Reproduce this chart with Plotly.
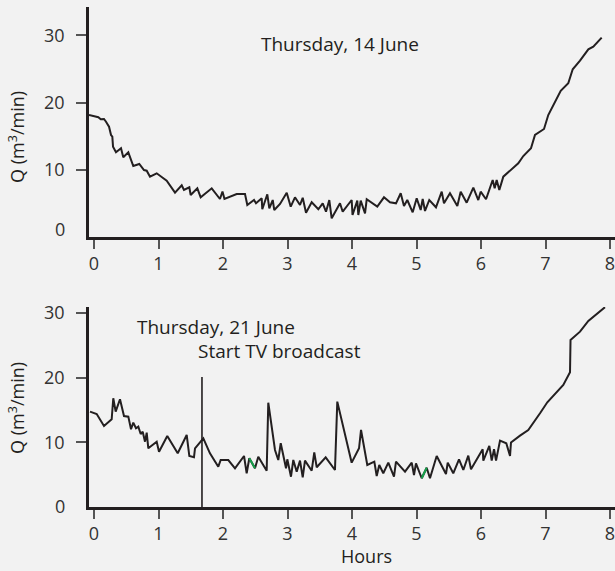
import plotly.graph_objects as go

# Water demand Q (m^3/min) against time (hours) for two Thursdays
hours_jun14 = [-0.078, 0.016, 0.067, 0.104, 0.155, 0.186, 0.233, 0.264, 0.284, 0.295,
               0.341, 0.419, 0.454, 0.532, 0.609, 0.702, 0.775, 0.817, 0.868, 0.972,
               1.127, 1.256, 1.360, 1.395, 1.478, 1.499, 1.602, 1.654, 1.825, 1.953,
               1.992, 2.023, 2.212, 2.341, 2.377, 2.481, 2.512, 2.600, 2.609, 2.687,
               2.718, 2.771, 2.795, 2.884, 2.988, 3.050, 3.116, 3.194, 3.236, 3.287,
               3.375, 3.478, 3.546, 3.597, 3.648, 3.685, 3.814, 3.856, 3.995, 4.008,
               4.082, 4.098, 4.135, 4.202, 4.228, 4.392, 4.496, 4.589, 4.682, 4.755,
               4.806, 4.857, 4.941, 5.003, 5.065, 5.096, 5.132, 5.198, 5.302, 5.391,
               5.426, 5.519, 5.633, 5.685, 5.778, 5.881, 5.958, 5.995, 6.078, 6.181,
               6.212, 6.243, 6.284, 6.346, 6.578, 6.656, 6.775, 6.837, 6.977, 7.043,
               7.236, 7.353, 7.422, 7.535, 7.664, 7.741, 7.871]
q_jun14 = [18.14, 17.99, 17.80, 17.50, 17.55, 17.14, 16.40, 15.17, 14.91, 13.43,
           12.59, 13.19, 11.85, 12.59, 10.56, 10.86, 9.96, 9.86, 8.97, 9.47,
           8.37, 6.59, 7.69, 6.99, 7.39, 6.25, 7.24, 5.90, 7.24, 5.65,
           6.77, 5.65, 6.39, 6.39, 4.76, 5.50, 5.01, 5.75, 4.12, 6.35,
           4.27, 5.50, 4.01, 4.91, 6.59, 4.51, 5.90, 4.76, 5.84, 3.61,
           5.16, 4.12, 5.01, 3.76, 5.50, 2.78, 5.01, 3.76, 5.50, 3.27,
           5.40, 3.27, 5.40, 3.52, 5.61, 4.51, 5.90, 5.16, 5.01, 6.50,
           4.61, 5.50, 3.67, 5.75, 4.01, 5.65, 3.87, 5.50, 4.42, 6.74,
           5.01, 6.50, 4.61, 6.74, 5.10, 7.33, 5.50, 6.74, 5.61, 8.48,
           7.24, 8.48, 6.99, 8.97, 10.96, 12.04, 13.19, 15.17, 16.06, 18.14,
           21.75, 22.86, 24.94, 26.22, 27.91, 28.30, 29.64]

hours_jun21 = [-0.062, 0.042, 0.155, 0.274, 0.299, 0.336, 0.403, 0.465, 0.532, 0.574,
               0.609, 0.651, 0.687, 0.724, 0.755, 0.791, 0.817, 0.842, 0.972, 1.008,
               1.136, 1.298, 1.437, 1.478, 1.550, 1.566, 1.695, 1.798, 1.927, 1.964,
               2.082, 2.186, 2.326, 2.367, 2.408, 2.496, 2.547, 2.677, 2.702, 2.806,
               2.857, 2.895, 2.977, 2.997, 3.054, 3.090, 3.143, 3.194, 3.236, 3.271,
               3.375, 3.415, 3.453, 3.592, 3.736, 3.772, 3.995, 4.109, 4.140, 4.237,
               4.346, 4.383, 4.423, 4.485, 4.563, 4.651, 4.682, 4.822, 4.926, 4.961,
               4.992, 5.081, 5.158, 5.209, 5.313, 5.457, 5.484, 5.570, 5.659, 5.726,
               5.803, 5.845, 6.026, 6.036, 6.129, 6.166, 6.202, 6.233, 6.295, 6.392,
               6.450, 6.465, 6.605, 6.733, 6.915, 7.028, 7.276, 7.380, 7.388, 7.535,
               7.664, 7.922]
q_jun21 = [14.73, 14.37, 12.52, 13.55, 16.80, 14.73, 16.65, 14.06, 13.96, 12.01,
           13.03, 12.16, 12.41, 11.28, 11.64, 10.09, 11.48, 9.07, 10.09, 8.55,
           10.97, 8.30, 11.13, 7.88, 7.68, 9.07, 10.62, 8.30, 6.23, 7.26,
           7.26, 5.98, 7.88, 5.21, 7.53, 5.98, 7.77, 5.61, 16.12, 8.81,
           7.26, 9.85, 5.98, 7.37, 4.68, 7.26, 5.46, 7.16, 4.59, 7.16,
           5.61, 8.45, 6.14, 7.68, 5.72, 16.28, 6.85, 9.07, 11.90, 6.49,
           7.00, 4.79, 6.49, 5.21, 6.85, 4.68, 7.00, 5.46, 6.85, 4.95,
           6.75, 4.44, 6.07, 4.44, 7.88, 5.10, 6.85, 5.21, 7.37, 5.72,
           7.93, 5.83, 8.92, 7.16, 9.43, 7.16, 8.92, 7.16, 10.25, 9.85,
           7.88, 9.97, 11.02, 11.90, 14.48, 16.18, 18.86, 20.82, 25.81, 27.09,
           28.75, 30.87]

# Segments of the 21 June record marked in green (index of first point)
green_segment_starts = [34, 71]

# Start of the TV broadcast
broadcast_hour = 1.674
broadcast_marker_top = 20.1

hour_ticks = [0, 1, 2, 3, 4, 5, 6, 7, 8]
q_ticks = [10, 20, 30]

INK = "#231f20"
BG = "#f2f2f2"
FONT = "Open Sans"

fig = go.Figure()

fig.add_trace(go.Scatter(x=hours_jun14, y=q_jun14, mode="lines",
                         line=dict(color=INK, width=2), xaxis="x", yaxis="y",
                         showlegend=False, hoverinfo="skip"))

fig.add_trace(go.Scatter(x=hours_jun21, y=q_jun21, mode="lines",
                         line=dict(color=INK, width=2), xaxis="x2", yaxis="y2",
                         showlegend=False, hoverinfo="skip"))

for i in green_segment_starts:
    fig.add_trace(go.Scatter(x=hours_jun21[i:i + 2], y=q_jun21[i:i + 2], mode="lines",
                             line=dict(color="#16a04b", width=2), xaxis="x2", yaxis="y2",
                             showlegend=False, hoverinfo="skip"))

fig.add_trace(go.Scatter(x=[broadcast_hour, broadcast_hour], y=[0, broadcast_marker_top],
                         mode="lines", line=dict(color=INK, width=1.6),
                         xaxis="x2", yaxis="y2", showlegend=False, hoverinfo="skip"))

x_common = dict(range=[-0.0775, 8.0775], tickvals=hour_ticks, ticks="outside",
                ticklen=9, tickwidth=1.5, tickcolor="#555", showline=True,
                linecolor=INK, linewidth=2.6, showgrid=False, zeroline=False,
                ticklabeloverflow="allow",
                tickfont=dict(family=FONT, size=18, color="#333"), fixedrange=True)
y_common = dict(tickvals=q_ticks, ticks="outside", ticklen=10, tickwidth=1.5,
                tickcolor="#555", showline=True, linecolor=INK, linewidth=2.6,
                showgrid=False, zeroline=False, ticklabelstandoff=8,
                tickfont=dict(family=FONT, size=18, color="#333"), fixedrange=True)

fig.update_layout(
    width=615, height=571,
    margin=dict(l=89, r=0, t=7, b=64),
    paper_bgcolor=BG, plot_bgcolor=BG,
    xaxis=dict(x_common, anchor="y"),
    yaxis=dict(y_common, domain=[0.54, 1.0], range=[0, 34.2], anchor="x"),
    xaxis2=dict(x_common, anchor="y2"),
    yaxis2=dict(y_common, domain=[0.0, 0.4], range=[0, 30.9], anchor="x2"),
)

ann_font = dict(family=FONT, size=19, color=INK)
qlabel = "Q (m<sup>3</sup>/min)"
fig.add_annotation(text="Thursday, 14 June", xref="paper", yref="paper",
                   x=0.478, y=0.926, xanchor="center", yanchor="middle",
                   showarrow=False, font=ann_font)
fig.add_annotation(text="Thursday, 21 June", xref="paper", yref="paper",
                   x=0.0875, y=0.36, xanchor="left", yanchor="middle",
                   showarrow=False, font=ann_font)
fig.add_annotation(text="Start TV broadcast", xref="paper", yref="paper",
                   x=0.2034, y=0.313, xanchor="left", yanchor="middle",
                   showarrow=False, font=ann_font)
fig.add_annotation(text=qlabel, xref="paper", yref="paper", x=-0.137, y=0.74,
                   xanchor="center", yanchor="middle", textangle=-90,
                   showarrow=False, font=dict(family=FONT, size=18, color=INK))
fig.add_annotation(text=qlabel, xref="paper", yref="paper", x=-0.137, y=0.198,
                   xanchor="center", yanchor="middle", textangle=-90,
                   showarrow=False, font=dict(family=FONT, size=18, color=INK))
fig.add_annotation(text="Hours", xref="paper", yref="paper", x=0.527, y=-0.098,
                   xanchor="center", yanchor="middle", showarrow=False,
                   font=dict(family=FONT, size=18, color=INK))
# zero labels on the Q axes
fig.add_annotation(text="0", xref="paper", yref="y", x=-0.055, y=0, yshift=8,
                   xanchor="center", yanchor="middle", showarrow=False,
                   font=dict(family=FONT, size=18, color="#333"))
fig.add_annotation(text="0", xref="paper", yref="y2", x=-0.055, y=0, yshift=1,
                   xanchor="center", yanchor="middle", showarrow=False,
                   font=dict(family=FONT, size=18, color="#333"))

fig.write_html("out.html")
